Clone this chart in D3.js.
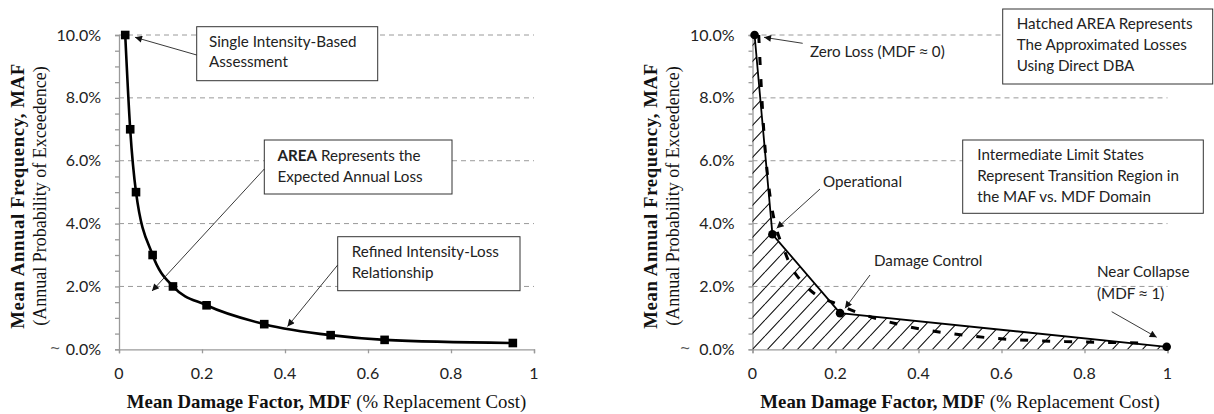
<!DOCTYPE html>
<html><head><meta charset="utf-8">
<script src="https://cdn.jsdelivr.net/npm/d3@7"></script>
<style>
body{margin:0;background:#fff;}
svg{display:block;}
.lbl{font-family:Lato,"Open Sans",sans-serif;font-size:15.2px;fill:#222;}
.tick{font-family:Lato,"Open Sans",sans-serif;font-size:16px;fill:#222;}
.ttl{font-family:"Liberation Serif","Times New Roman",serif;font-size:18.8px;fill:#111;}
.sym{font-family:"Open Sans","DejaVu Sans",sans-serif;}
</style></head>
<body>
<svg id="c" width="1214" height="414"></svg>
<script>
// ---------- data ----------
const yTickValues = [0, 2, 4, 6, 8, 10];            // MAF, %
const yTickLabels = ["0.0%", "2.0%", "4.0%", "6.0%", "8.0%", "10.0%"];
const yMinorTicks = [0,0.5,1,1.5,2,2.5,3,3.5,4,4.5,5,5.5,6,6.5,7,7.5,8,8.5,9,9.5,10];
const xTickValues = [0, 0.2, 0.4, 0.6, 0.8, 1];
const xTickLabels = ["0", "0.2", "0.4", "0.6", "0.8", "1"];

// Left: refined intensity-loss relationship
const refinedMDF = [0.015, 0.027, 0.041, 0.081, 0.13, 0.211, 0.35, 0.51, 0.64, 0.949];
const refinedMAF = [10, 7, 5, 3, 2, 1.4, 0.8, 0.45, 0.3, 0.2];

// Right: limit states (direct DBA)
const limitNames = ["Zero Loss", "Operational", "Damage Control", "Near Collapse"];
const limitMDF = [0.005, 0.048, 0.211, 0.998];
const limitMAF = [10, 3.66, 1.15, 0.08];

const svg = d3.select("#c");

// arrow marker
const defs = svg.append("defs");
defs.append("marker").attr("id","arr").attr("viewBox","0 0 10 10")
  .attr("refX",10).attr("refY",5).attr("markerWidth",9).attr("markerHeight",7)
  .attr("markerUnits","userSpaceOnUse").attr("orient","auto")
  .append("path").attr("d","M0,0 L10,5 L0,10 z").attr("fill","#111");
// hatch pattern
const hp = defs.append("pattern").attr("id","hatch").attr("patternUnits","userSpaceOnUse")
  .attr("width",15).attr("height",16);
hp.append("path").attr("d","M0,16 L15,0 M-15,16 L0,0 M15,16 L30,0")
  .attr("stroke","#111").attr("stroke-width",1.1);

function panel(x0, x1, opts){
  const x = d3.scaleLinear().domain([0,1]).range([x0,x1]);
  const y = d3.scaleLinear().domain([0,10]).range([349.3,35]);
  const g = svg.append("g");

  // grid
  g.append("g").selectAll("line").data(yTickValues.filter(v=>v>0)).join("line")
    .attr("x1",x0).attr("x2",x1).attr("y1",d=>y(d)).attr("y2",d=>y(d))
    .attr("stroke","#9a9a9a").attr("stroke-width",1).attr("stroke-dasharray","5,4");

  // y axis with minor ticks
  const ya = g.append("g").attr("transform",`translate(${x0},0)`)
    .call(d3.axisLeft(y).tickValues(yMinorTicks).tickSize(4).tickFormat(""));
  ya.selectAll("path,line").attr("stroke","#9a9a9a").attr("stroke-width",1.3);
  // y labels
  g.append("g").selectAll("text").data(yTickValues).join("text").attr("class","tick")
    .attr("x",x0-18).attr("y",d=>y(d)+5.5).attr("text-anchor","end")
    .text((d,i)=>yTickLabels[i]);
  g.append("text").attr("class","sym").attr("x",opts.tildeX).attr("y",y(0)+5)
    .attr("text-anchor","middle").style("fill","#555").style("font-size","17px").text("~");

  // x axis
  const xa = g.append("g").attr("transform",`translate(0,${y(0)})`)
    .call(d3.axisBottom(x).tickValues(xTickValues).tickSize(4).tickFormat(""));
  xa.selectAll("path,line").attr("stroke","#9a9a9a").attr("stroke-width",1.3);
  g.append("g").selectAll("text").data(xTickValues).join("text").attr("class","tick")
    .attr("x",d=>x(d)).attr("y",379).attr("text-anchor","middle")
    .text((d,i)=>xTickLabels[i]);

  // axis titles
  const xt = g.append("text").attr("class","ttl").attr("x",(x0+x1)/2).attr("y",407.5).attr("text-anchor","middle");
  xt.append("tspan").attr("font-weight","bold").text("Mean Damage Factor, MDF");
  xt.append("tspan").text(" (% Replacement Cost)");
  g.append("text").attr("class","ttl").attr("font-weight","bold").style("letter-spacing","0.6px")
    .attr("transform",`translate(${opts.ytX},196) rotate(-90)`).attr("text-anchor","middle")
    .text("Mean Annual Frequency, MAF");
  g.append("text").attr("class","ttl").style("font-size","18px")
    .attr("transform",`translate(${opts.ytX+22},196) rotate(-90)`).attr("text-anchor","middle")
    .text("(Annual Probability of Exceedence)");
  return {x,y,g};
}

function box(g, bx, by, bw, bh, tx, lines, lh){
  g.append("rect").attr("x",bx).attr("y",by).attr("width",bw).attr("height",bh)
    .attr("fill","#fff").attr("stroke","#333").attr("stroke-width",1);
  lines.forEach((ln,i)=>{
    const t = g.append("text").attr("class","lbl").attr("x",tx).attr("y",by+lh*(i+1)-0.5);
    ln.forEach(seg=>t.append("tspan").attr("font-weight",seg.b?"bold":null).text(seg.t));
  });
}
function arrow(g, x1,y1,x2,y2){
  g.append("line").attr("x1",x1).attr("y1",y1).attr("x2",x2).attr("y2",y2)
    .attr("stroke","#222").attr("stroke-width",0.9).attr("marker-end","url(#arr)");
}
function label(g, x, y, parts){
  const t = g.append("text").attr("class","lbl").attr("x",x).attr("y",y);
  parts.forEach(p=>t.append("tspan").attr("class",p.s?"sym":null).text(p.t));
}

// ---------- left panel ----------
const L = panel(119, 534, {tildeX:55, ytX:24});
const leftPts = refinedMDF.map((m,i)=>[m, refinedMAF[i]]);
L.g.append("path").datum(leftPts)
  .attr("d", d3.line().x(d=>L.x(d[0])).y(d=>L.y(d[1])).curve(d3.curveMonotoneX))
  .attr("fill","none").attr("stroke","#000").attr("stroke-width",2.6);
L.g.selectAll("rect.mk").data(leftPts).join("rect").attr("class","mk")
  .attr("x",d=>L.x(d[0])-4.3).attr("y",d=>L.y(d[1])-4.3).attr("width",8.6).attr("height",8.6)
  .attr("fill","#000");

box(L.g, 196.7, 26.7, 181, 54, 209, [[{t:"Single Intensity-Based"}],[{t:"Assessment"}]], 20.5);
box(L.g, 264.3, 140, 187.7, 54, 277.5, [[{t:"AREA",b:true},{t:" Represents the"}],[{t:"Expected Annual Loss"}]], 21);
box(L.g, 337.7, 236.7, 182.3, 54, 351.7, [[{t:"Refined Intensity-Loss"}],[{t:"Relationship"}]], 21);
arrow(L.g, 196.7, 55, 135, 37.3);
arrow(L.g, 264.3, 169, 152, 291);
arrow(L.g, 337.7, 265, 287.5, 326.5);

// ---------- right panel ----------
const R = panel(752.5, 1167.5, {tildeX:685, ytX:657});
const limPts = limitMDF.map((m,i)=>[m, limitMAF[i]]);
const areaPts = [[0, limitMAF[0]]].concat(limPts);
R.g.append("path").datum(areaPts)
  .attr("d", d3.area().x(d=>R.x(d[0])).y0(R.y(0)).y1(d=>R.y(d[1])))
  .attr("fill","url(#hatch)").attr("stroke","none");
R.g.append("path").datum(leftPts)
  .attr("d", d3.line().x(d=>R.x(d[0])).y(d=>R.y(d[1])).curve(d3.curveMonotoneX))
  .attr("fill","none").attr("stroke","#000").attr("stroke-width",3).attr("stroke-dasharray","8,14");
R.g.append("path").datum(limPts)
  .attr("d", d3.line().x(d=>R.x(d[0])).y(d=>R.y(d[1])))
  .attr("fill","none").attr("stroke","#000").attr("stroke-width",1.8);
R.g.selectAll("circle").data(limPts).join("circle")
  .attr("cx",d=>R.x(d[0])).attr("cy",d=>R.y(d[1])).attr("r",4.3).attr("fill","#000");

box(R.g, 1002.7, 9, 210, 75, 1016.7, [[{t:"Hatched AREA Represents"}],[{t:"The Approximated Losses"}],[{t:"Using Direct DBA"}]], 20.7);
box(R.g, 962.7, 140, 240.6, 73.3, 977.3, [[{t:"Intermediate Limit States"}],[{t:"Represent Transition Region in"}],[{t:"the MAF vs. MDF Domain"}]], 20.7);
label(R.g, 810, 57, [{t:"Zero Loss (MDF "},{t:"\u2248",s:true},{t:" 0)"}]);
label(R.g, 823, 187, [{t:"Operational"}]);
label(R.g, 874, 266, [{t:"Damage Control"}]);
label(R.g, 1097, 277, [{t:"Near Collapse"}]);
label(R.g, 1097, 299, [{t:"(MDF "},{t:"\u2248",s:true},{t:" 1)"}]);
arrow(R.g, 802.7, 43.3, 764, 37.3);
arrow(R.g, 820, 189, 776.7, 228.3);
arrow(R.g, 870, 275, 845, 308.3);
arrow(R.g, 1111.7, 311.7, 1156.7, 337.3);
</script>
</body></html>
